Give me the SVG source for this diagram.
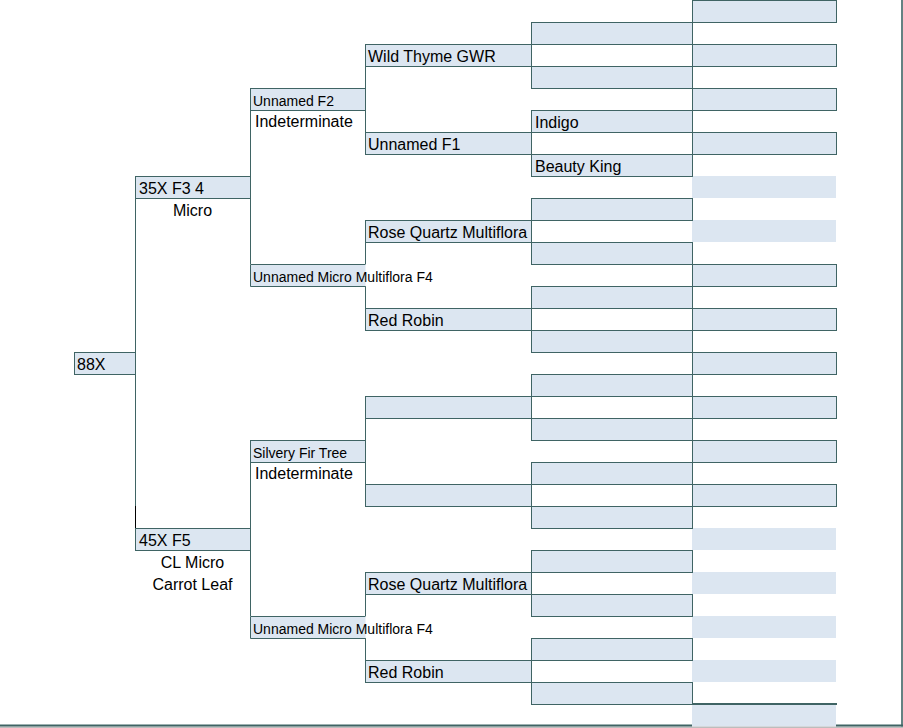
<svg xmlns="http://www.w3.org/2000/svg" width="903" height="728" viewBox="0 0 903 728">
<style>
.box{fill:#DCE6F1;stroke:#3F6464;stroke-width:1}
.fill{fill:#DCE6F1}
.edge{fill:none;stroke:#3F6464;stroke-width:1}
.conn{fill:none;stroke:#3F6464;stroke-width:1}
text{font-family:"Liberation Sans",Arial,sans-serif;fill:#000}
.t16{font-size:16px}
.t14{font-size:14px}
.c{text-anchor:middle}
</style>
<rect width="903" height="728" fill="#FFFFFF"/>

<!-- Unbordered fills in last column -->
<g id="col-f-fills">
<rect class="fill" x="692" y="176" width="144" height="22"/>
<rect class="fill" x="692" y="220" width="144" height="22"/>
<rect class="fill" x="692" y="528" width="144" height="22"/>
<rect class="fill" x="692" y="572" width="144" height="22"/>
<rect class="fill" x="692" y="616" width="144" height="22"/>
<rect class="fill" x="692" y="660" width="144" height="22"/>
<rect class="fill" x="692" y="704" width="144" height="22.5"/>
</g>

<!-- Connectors -->
<g id="connectors">
<path class="conn" d="M135.5,198 V506"/>
<path d="M135.5,506 V528" stroke="#000" stroke-width="1"/>
<path class="conn" d="M250.5,110 V264 M250.5,462 V616"/>
<path class="conn" d="M365.5,66 V132 M365.5,242 V264 M365.5,286 V308 M365.5,418 V484 M365.5,594 V616 M365.5,638 V660"/>
</g>

<!-- Generation 1 -->
<g id="n-88x"><rect class="box" x="74.5" y="352.5" width="61" height="22"/><text class="t16" x="77" y="370">88X</text></g>

<!-- Generation 2 -->
<g id="n-35x"><rect class="box" x="135.5" y="176.5" width="115" height="22"/><text class="t16" x="139" y="194">35X F3 4</text><text class="t16 c" x="192.5" y="216">Micro</text></g>
<g id="n-45x"><rect class="box" x="135.5" y="528.5" width="115" height="22"/><text class="t16" x="139" y="546">45X F5</text><text class="t16 c" x="192.5" y="568">CL Micro</text><text class="t16 c" x="192.5" y="590">Carrot Leaf</text></g>

<!-- Generation 3 -->
<g id="n-unnamed-f2"><rect class="box" x="250.5" y="88.5" width="115" height="22"/><text class="t14" x="253" y="106">Unnamed F2</text><text class="t16" x="255" y="127">Indeterminate</text></g>
<g id="n-unnamed-f4-a"><rect class="fill" x="250.5" y="264.5" width="115" height="22"/><path class="edge" d="M365.5,264.5 H250.5 V286.5 H365.5"/><text class="t14" x="253" y="282">Unnamed Micro Multiflora F4</text></g>
<g id="n-silvery"><rect class="box" x="250.5" y="440.5" width="115" height="22"/><text class="t14" x="253" y="458">Silvery Fir Tree</text><text class="t16" x="255" y="479">Indeterminate</text></g>
<g id="n-unnamed-f4-b"><rect class="fill" x="250.5" y="616.5" width="115" height="22"/><path class="edge" d="M365.5,616.5 H250.5 V638.5 H365.5"/><text class="t14" x="253" y="634">Unnamed Micro Multiflora F4</text></g>

<!-- Generation 4 -->
<g id="n-wild-thyme"><rect class="box" x="365.5" y="44.5" width="166" height="22"/><text class="t16" x="368" y="62">Wild Thyme GWR</text></g>
<g id="n-unnamed-f1"><rect class="box" x="365.5" y="132.5" width="166" height="22"/><text class="t16" x="368" y="150">Unnamed F1</text></g>
<g id="n-rose-quartz-a"><rect class="box" x="365.5" y="220.5" width="166" height="22"/><text class="t16" x="368" y="238">Rose Quartz Multiflora</text></g>
<g id="n-red-robin-a"><rect class="box" x="365.5" y="308.5" width="166" height="22"/><text class="t16" x="368" y="326">Red Robin</text></g>
<g id="n-d18"><rect class="box" x="365.5" y="396.5" width="166" height="22"/></g>
<g id="n-d22"><rect class="box" x="365.5" y="484.5" width="166" height="22"/></g>
<g id="n-rose-quartz-b"><rect class="box" x="365.5" y="572.5" width="166" height="22"/><text class="t16" x="368" y="590">Rose Quartz Multiflora</text></g>
<g id="n-red-robin-b"><rect class="box" x="365.5" y="660.5" width="166" height="22"/><text class="t16" x="368" y="678">Red Robin</text></g>

<!-- Generation 5 -->
<g id="n-e1"><rect class="box" x="531.5" y="22.5" width="161" height="22"/></g>
<g id="n-e3"><rect class="box" x="531.5" y="66.5" width="161" height="22"/></g>
<g id="n-indigo"><rect class="box" x="531.5" y="110.5" width="161" height="22"/><text class="t16" x="535" y="128">Indigo</text></g>
<g id="n-beauty-king"><rect class="box" x="531.5" y="154.5" width="161" height="22"/><text class="t16" x="535" y="172">Beauty King</text></g>
<g id="n-e9"><rect class="box" x="531.5" y="198.5" width="161" height="22"/></g>
<g id="n-e11"><rect class="box" x="531.5" y="242.5" width="161" height="22"/></g>
<g id="n-e13"><rect class="box" x="531.5" y="286.5" width="161" height="22"/></g>
<g id="n-e15"><rect class="box" x="531.5" y="330.5" width="161" height="22"/></g>
<g id="n-e17"><rect class="box" x="531.5" y="374.5" width="161" height="22"/></g>
<g id="n-e19"><rect class="box" x="531.5" y="418.5" width="161" height="22"/></g>
<g id="n-e21"><rect class="box" x="531.5" y="462.5" width="161" height="22"/></g>
<g id="n-e23"><rect class="box" x="531.5" y="506.5" width="161" height="22"/></g>
<g id="n-e25"><rect class="box" x="531.5" y="550.5" width="161" height="22"/></g>
<g id="n-e27"><rect class="box" x="531.5" y="594.5" width="161" height="22"/></g>
<g id="n-e29"><rect class="box" x="531.5" y="638.5" width="161" height="22"/></g>
<g id="n-e31"><rect class="box" x="531.5" y="682.5" width="161" height="22"/></g>

<!-- Generation 6 (bordered) -->
<g id="n-f0"><rect class="box" x="692.5" y="0.5" width="144" height="22"/></g>
<g id="n-f2"><rect class="box" x="692.5" y="44.5" width="144" height="22"/></g>
<g id="n-f4"><rect class="box" x="692.5" y="88.5" width="144" height="22"/></g>
<g id="n-f6"><rect class="box" x="692.5" y="132.5" width="144" height="22"/></g>
<g id="n-f12"><rect class="box" x="692.5" y="264.5" width="144" height="22"/></g>
<g id="n-f14"><rect class="box" x="692.5" y="308.5" width="144" height="22"/></g>
<g id="n-f16"><rect class="box" x="692.5" y="352.5" width="144" height="22"/></g>
<g id="n-f18"><rect class="box" x="692.5" y="396.5" width="144" height="22"/></g>
<g id="n-f20"><rect class="box" x="692.5" y="440.5" width="144" height="22"/></g>
<g id="n-f22"><rect class="box" x="692.5" y="484.5" width="144" height="22"/></g>

<!-- Frame -->
<g id="frame">
<rect x="692" y="703" width="145" height="2" fill="#3F6464"/>
<rect x="0" y="726.5" width="903" height="1.5" fill="#BDBDBD"/>
<rect x="0" y="724.5" width="692" height="2" fill="#3F6464"/>
<rect x="836" y="724.5" width="67" height="2" fill="#3F6464"/>
<rect x="901.2" y="0" width="1.6" height="726.5" fill="#3F6464"/>
</g>
</svg>
